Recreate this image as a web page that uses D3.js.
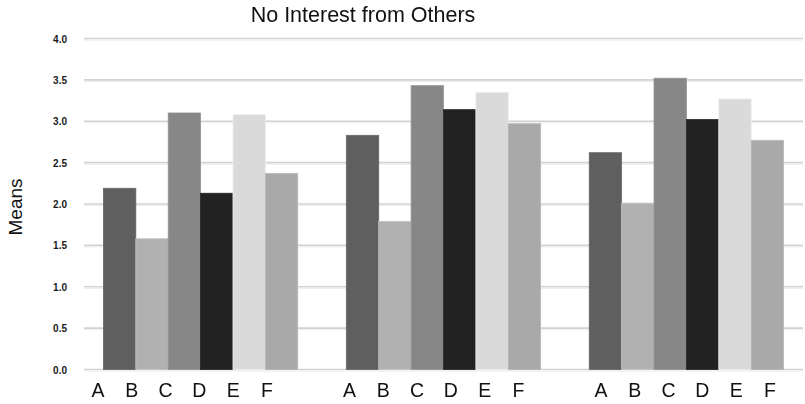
<!DOCTYPE html>
<html>
<head>
<meta charset="utf-8">
<script src="https://cdn.jsdelivr.net/npm/d3@7"></script>
<style>
  html, body { margin: 0; padding: 0; background: #fff; }
  svg { display: block; font-family: "Liberation Sans", Arial, Helvetica, sans-serif; }
</style>
</head>
<body>
<svg id="chart" width="805" height="404"></svg>
<script>
// Groups along the x axis and the six series shown inside each group
const groups = ["G1", "G2", "G3"];
const series = ["A", "B", "C", "D", "E", "F"];

// Mean value of each series, one array per series (G1, G2, G3)
const valuesA = [2.19, 2.83, 2.62];
const valuesB = [1.58, 1.79, 2.01];
const valuesC = [3.10, 3.43, 3.52];
const valuesD = [2.13, 3.14, 3.02];
const valuesE = [3.08, 3.35, 3.27];
const valuesF = [2.37, 2.97, 2.77];

const yTicks = [0, 0.5, 1, 1.5, 2, 2.5, 3, 3.5, 4];
const seriesColors = ["#5e5e5e", "#b1b1b1", "#878787", "#222222", "#dadada", "#a9a9a9"];

const valuesBySeries = [valuesA, valuesB, valuesC, valuesD, valuesE, valuesF];
const rows = groups.map((g, gi) => ({
  group: g,
  items: series.map((s, si) => ({ key: s, value: valuesBySeries[si][gi] }))
}));

const svg = d3.select("#chart");
const plot = { left: 84, right: 803, top: 38.5, bottom: 369.5 };

const x0 = d3.scaleBand().domain(groups).range([plot.left, plot.right])
  .paddingInner(0.2).paddingOuter(0.08);
const x1 = d3.scaleBand().domain(series).range([0, x0.bandwidth()]).padding(0);
const y = d3.scaleLinear().domain([0, 4]).range([plot.bottom, plot.top]);
const color = d3.scaleOrdinal().domain(series).range(seriesColors);

// Category letter positions under each group
const labelGroup = d3.scalePoint().domain(groups).range([98, 601]);
const labelStep = d3.scalePoint().domain(series).range([0, 169]);

const defs = svg.append("defs");
const soft = defs.append("filter").attr("id", "soft")
  .attr("x", "-10%").attr("y", "-10%").attr("width", "120%").attr("height", "120%");
soft.append("feGaussianBlur").attr("stdDeviation", 0.45);

// Horizontal gridlines
const grid = svg.append("g");
grid.selectAll("line.g1").data(yTicks).join("line").attr("class", "g1")
  .attr("x1", plot.left).attr("x2", plot.right)
  .attr("y1", d => y(d)).attr("y2", d => y(d))
  .attr("stroke", "#d2d2d2").attr("stroke-width", 1.6);
grid.selectAll("line.g2").data(yTicks).join("line").attr("class", "g2")
  .attr("x1", plot.left).attr("x2", plot.right)
  .attr("y1", d => y(d) + 1.6).attr("y2", d => y(d) + 1.6)
  .attr("stroke", "#ededed").attr("stroke-width", 1);

// Y axis tick labels
const yAxis = d3.axisLeft(y).tickValues(yTicks).tickFormat(d3.format(".1f")).tickSize(0).tickPadding(0);
const yg = svg.append("g").attr("transform", "translate(67,0)").call(yAxis);
yg.select(".domain").remove();
yg.selectAll("text")
  .attr("font-family", "'Liberation Sans', Arial, sans-serif")
  .attr("font-size", 10).attr("font-weight", "bold").attr("fill", "#1a1a1a")
  .attr("dy", "0.35em");

// Bars
const bars = svg.append("g").attr("filter", "url(#soft)");
const gsel = bars.selectAll("g").data(rows).join("g")
  .attr("transform", d => `translate(${x0(d.group)},0)`);
gsel.selectAll("rect").data(d => d.items).join("rect")
  .attr("x", d => x1(d.key))
  .attr("width", x1.bandwidth())
  .attr("y", d => y(d.value))
  .attr("height", d => y(0) - y(d.value))
  .attr("fill", d => color(d.key))
  .attr("stroke", d => d3.color(color(d.key)).brighter(0.25))
  .attr("stroke-width", 0.8);

// Category letters
const lab = svg.append("g");
groups.forEach(g => {
  lab.selectAll(null).data(series).join("text")
    .attr("x", s => labelGroup(g) + labelStep(s))
    .attr("y", 397)
    .attr("text-anchor", "middle")
    .attr("font-size", 19.5)
    .attr("fill", "#111")
    .text(s => s);
});

// Title
svg.append("text")
  .attr("x", 363).attr("y", 22)
  .attr("text-anchor", "middle")
  .attr("font-size", 21.5)
  .attr("fill", "#111")
  .text("No Interest from Others");

// Y axis title
svg.append("text")
  .attr("transform", "translate(22,207) rotate(-90)")
  .attr("text-anchor", "middle")
  .attr("font-size", 19)
  .attr("fill", "#111")
  .text("Means");
</script>
</body>
</html>
